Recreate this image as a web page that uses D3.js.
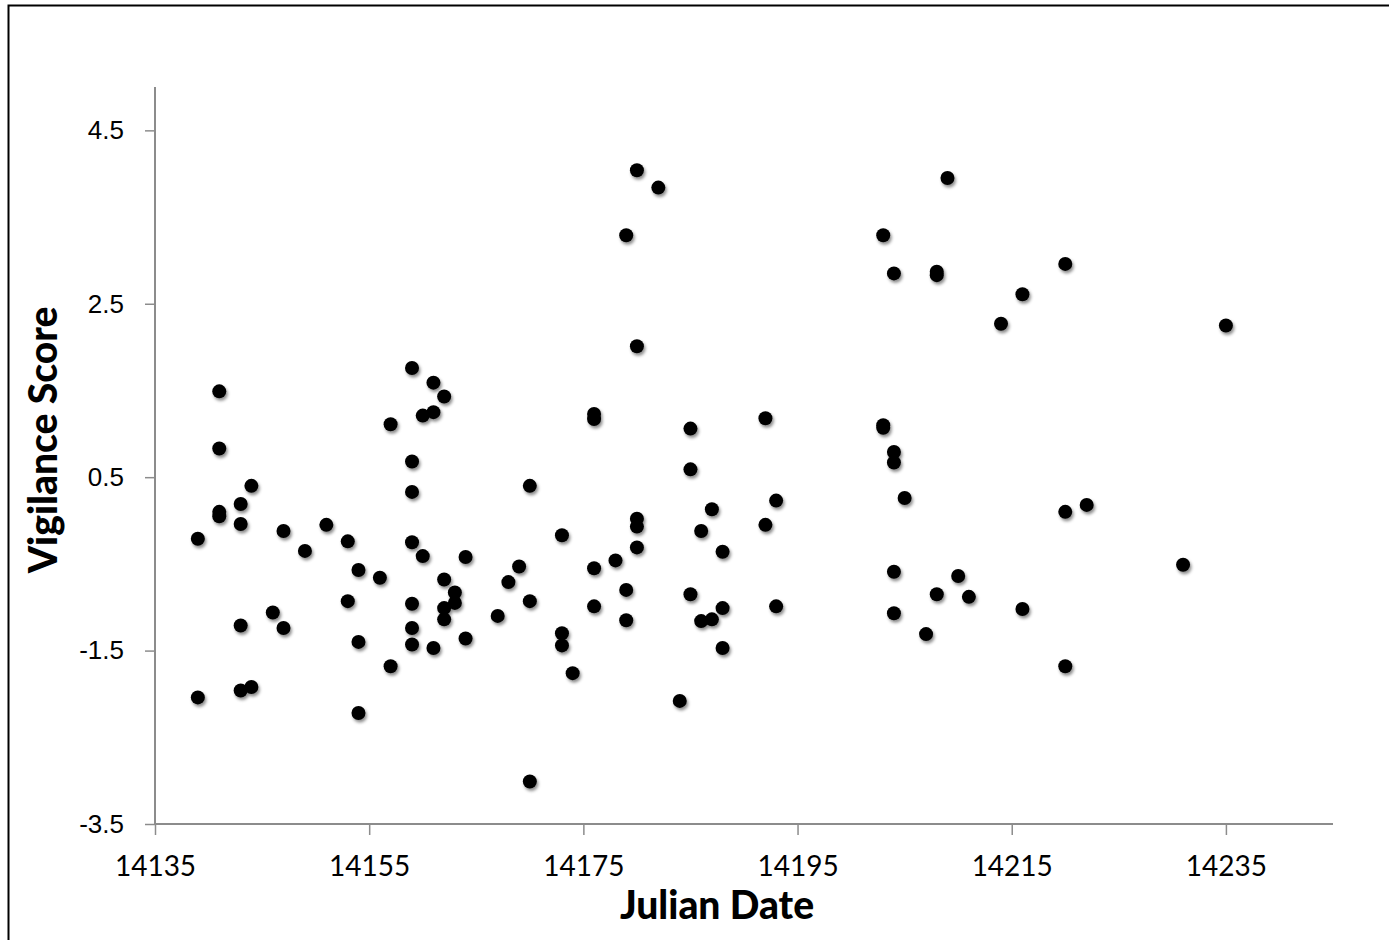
<!DOCTYPE html>
<html>
<head>
<meta charset="utf-8">
<script src="https://cdn.jsdelivr.net/npm/d3@7/dist/d3.min.js"></script>
<style>
  html, body { margin: 0; padding: 0; background: #fff; }
  svg { display: block; }
</style>
</head>
<body>
<svg id="chart" width="1389" height="940"></svg>
<script>
// Julian date of each observation
const julianDates = [
  14139, 14139, 14141, 14141, 14141, 14141, 14143, 14143, 14144, 14143,
  14143, 14144, 14146, 14147, 14147, 14149, 14151, 14153, 14153, 14154,
  14154, 14154, 14156, 14157, 14157, 14159, 14159, 14159, 14159, 14159,
  14159, 14159, 14160, 14160, 14161, 14161, 14161, 14162, 14162, 14162,
  14162, 14163, 14163, 14164, 14164,
  14167, 14168, 14169, 14170, 14170, 14170, 14173, 14173, 14173, 14174,
  14176, 14176, 14176, 14176, 14178, 14179, 14179, 14179, 14180, 14180,
  14180, 14180, 14180, 14182, 14184, 14185, 14185, 14185, 14186, 14186,
  14187, 14187, 14188, 14188, 14188, 14192, 14192, 14193, 14193,
  14203, 14203, 14203, 14204, 14204, 14204, 14204, 14204, 14205, 14207,
  14208, 14208, 14208, 14209, 14210, 14211, 14214, 14216, 14216, 14220,
  14220, 14220, 14222, 14231, 14235
];

// Vigilance score of each observation
const vigilanceScores = [
  -0.21, -2.04, 1.49, 0.83, 0.10, 0.05, 0.19, -0.04, 0.40, -1.21,
  -1.96, -1.92, -1.06, -1.24, -0.12, -0.35, -0.05, -0.24, -0.93, -0.57,
  -1.40, -2.22, -0.66, 1.11, -1.68, 1.76, 0.68, 0.33, -0.25, -0.96,
  -1.24, -1.43, 1.21, -0.41, 1.59, 1.25, -1.47, 1.43, -0.68, -1.01,
  -1.14, -0.83, -0.95, -0.42, -1.36,
  -1.10, -0.71, -0.53, 0.40, -0.93, -3.01, -0.17, -1.30, -1.44, -1.76,
  1.23, 1.17, -0.55, -0.99, -0.46, 3.29, -0.80, -1.15, 4.04, 2.01,
  0.02, -0.07, -0.31, 3.84, -2.08, 1.06, 0.59, -0.85, -0.12, -1.16,
  0.13, -1.14, -0.36, -1.01, -1.47, 1.18, -0.05, 0.23, -0.99,
  3.29, 1.10, 1.07, 2.85, 0.79, 0.67, -0.59, -1.07, 0.26, -1.31,
  2.87, 2.83, -0.85, 3.95, -0.64, -0.88, 2.27, 2.61, -1.02, 2.96,
  0.10, -1.68, 0.18, -0.51, 2.25
];

const xTickValues = [14135, 14155, 14175, 14195, 14215, 14235];
const yTickValues = [-3.5, -1.5, 0.5, 2.5, 4.5];
const yTickLabels = ["-3.5", "-1.5", "0.5", "2.5", "4.5"];

const points = julianDates.map((d, i) => ({ date: d, score: vigilanceScores[i] }));

const svg = d3.select("#chart");
const axisColor = "#8c8c8c";

// outer chart border
svg.append("rect")
  .attr("x", 8.5).attr("y", 5.5)
  .attr("width", 1400).attr("height", 960)
  .attr("fill", "none").attr("stroke", "#000").attr("stroke-width", 2);

const plot = { left: 155, right: 1333, top: 87, bottom: 824 };

const x = d3.scaleLinear().domain([14135, 14245]).range([plot.left, plot.right]);
const y = d3.scaleLinear().domain([-3.5, 5]).range([plot.bottom, plot.top]);

// soft shadow beneath markers
const defs = svg.append("defs");
const f = defs.append("filter").attr("id", "dotShadow")
  .attr("x", "-50%").attr("y", "-50%").attr("width", "200%").attr("height", "200%");
f.append("feDropShadow")
  .attr("dx", 1.5).attr("dy", 2.5).attr("stdDeviation", 1.6)
  .attr("flood-color", "#000").attr("flood-opacity", 0.45);

// x axis
const xAxis = d3.axisBottom(x).tickValues(xTickValues).tickSize(11).tickPadding(21)
  .tickFormat(d3.format("d"));
const gx = svg.append("g").attr("transform", `translate(0,${plot.bottom})`).call(xAxis);
gx.select(".domain").attr("stroke", axisColor).attr("stroke-width", 2)
  .attr("d", `M${plot.left},0H${plot.right}`);
gx.selectAll(".tick line").attr("stroke", axisColor).attr("stroke-width", 1.5);
gx.selectAll(".tick text")
  .attr("fill", "#000")
  .style("font-family", "Lato, 'Open Sans', sans-serif")
  .style("font-size", "28px");

// y axis
const yAxis = d3.axisLeft(y).tickValues(yTickValues).tickSize(10).tickPadding(21)
  .tickFormat((d, i) => yTickLabels[i]);
const gy = svg.append("g").attr("transform", `translate(${plot.left},0)`).call(yAxis);
gy.select(".domain").attr("stroke", axisColor).attr("stroke-width", 2)
  .attr("d", `M0,${plot.bottom}V${plot.top}`);
gy.selectAll(".tick line").attr("stroke", axisColor).attr("stroke-width", 1.5);
gy.selectAll(".tick text")
  .attr("fill", "#000")
  .style("font-family", "'Liberation Sans', Arial, sans-serif")
  .style("font-size", "26px");

// axis titles
svg.append("text")
  .attr("x", 717)
  .attr("y", 919)
  .attr("text-anchor", "middle")
  .style("font-family", "Lato, 'Open Sans', sans-serif")
  .style("font-weight", "900")
  .style("font-size", "39px")
  .text("Julian Date");

svg.append("text")
  .attr("transform", "translate(57,440) rotate(-90)")
  .attr("text-anchor", "middle")
  .style("font-family", "Lato, 'Open Sans', sans-serif")
  .style("font-weight", "900")
  .style("font-size", "39px")
  .text("Vigilance Score");

// markers
svg.append("g").attr("filter", "url(#dotShadow)")
  .selectAll("circle")
  .data(points)
  .join("circle")
  .attr("cx", d => x(d.date))
  .attr("cy", d => y(d.score))
  .attr("r", 7)
  .attr("fill", "#000");
</script>
</body>
</html>
